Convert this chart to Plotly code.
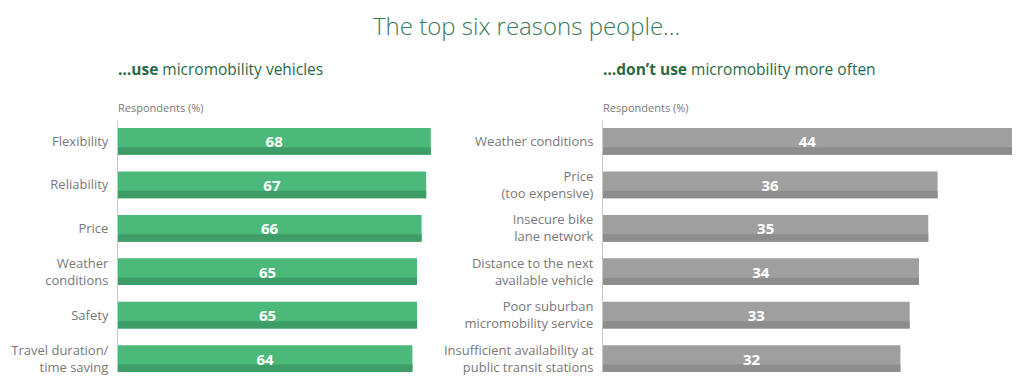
import plotly.graph_objects as go

# Reasons people use micromobility vehicles (respondents, %)
use_reasons = ["Flexibility", "Reliability", "Price", "Weather<br>conditions",
               "Safety", "Travel duration/<br>time saving"]
use_values = [68, 67, 66, 65, 65, 64]

# Reasons people don't use micromobility more often (respondents, %)
nouse_reasons = ["Weather conditions", "Price<br>(too expensive)",
                 "Insecure bike<br>lane network", "Distance to the next<br>available vehicle",
                 "Poor suburban<br>micromobility service",
                 "Insufficient availability at<br>public transit stations"]
nouse_values = [44, 36, 35, 34, 33, 32]

W, H = 1024, 376
FONT = "Open Sans"
LABEL_GREY = "#787878"
GREEN, GREEN_DARK = "#4bb97a", "#3e9d67"
GREY, GREY_DARK = "#a09fa0", "#8e8d8e"

BAR_W = 0.616      # bar thickness in category units
STRIPE_W = 0.17    # darker bottom stripe thickness

fig = go.Figure()

def add_panel(values, color, dark, xa, ya):
    pos = list(range(len(values)))
    # main bar body
    fig.add_trace(go.Bar(x=values, y=pos, orientation="h", marker_color=color,
                         marker_line_width=0, width=BAR_W, offset=-BAR_W / 2,
                         xaxis=xa, yaxis=ya, hoverinfo="skip"))
    # darker stripe along the bottom edge
    fig.add_trace(go.Bar(x=values, y=pos, orientation="h", marker_color=dark,
                         marker_line_width=0, width=STRIPE_W,
                         offset=BAR_W / 2 - STRIPE_W,
                         xaxis=xa, yaxis=ya, hoverinfo="skip"))
    # value labels
    fig.add_trace(go.Bar(x=values, y=pos, orientation="h",
                         marker_color="rgba(0,0,0,0)", marker_line_width=0,
                         width=BAR_W, offset=-BAR_W / 2,
                         text=[str(v) for v in values], textposition="inside",
                         insidetextanchor="middle", constraintext="none",
                         textfont=dict(family=FONT, size=15, color="white", weight="bold"),
                         xaxis=xa, yaxis=ya, hoverinfo="skip"))

add_panel(use_values, GREEN, GREEN_DARK, "x", "y")
add_panel(nouse_values, GREY, GREY_DARK, "x2", "y2")

y_top = 122
y_dom = [0, (H - y_top) / H]
y_range = [5.331, -0.468]

common_y = dict(domain=y_dom, range=y_range, showgrid=False, zeroline=False,
                showline=True, linecolor="#c9c9c9", linewidth=1, ticks="",
                tickfont=dict(family=FONT, size=13, color=LABEL_GREY),
                ticklabelstandoff=6, ticklabeloverflow="allow",
                tickmode="array", tickvals=list(range(6)))

fig.update_layout(
    width=W, height=H, margin=dict(l=0, r=0, t=0, b=0),
    paper_bgcolor="white", plot_bgcolor="white",
    barmode="overlay", showlegend=False,
    xaxis=dict(domain=[118 / W, 440 / W], range=[0, 70], visible=False),
    xaxis2=dict(domain=[603 / W, 1.0], range=[0, 45.3], visible=False, anchor="y2"),
    yaxis=dict(common_y, anchor="x", ticktext=use_reasons),
    yaxis2=dict(common_y, anchor="x2", ticktext=nouse_reasons),
)

def note(x, y, text, size, color, xanchor="left", weight="normal"):
    fig.add_annotation(x=x / W, y=1 - y / H, xref="paper", yref="paper",
                       text=text, showarrow=False, xanchor=xanchor, yanchor="middle",
                       font=dict(family=FONT, size=size, color=color, weight=weight))

note(526, 26, "The top six reasons people…", 24, "#3a7857", "center", 300)
note(116, 70, "<b>…use</b> micromobility vehicles", 15.5, "#2a6a45")
note(601, 70, "<b>…don’t use</b> micromobility more often", 15.5, "#2a6a45")
note(116, 108, "Respondents (%)", 11, LABEL_GREY)
note(601, 108, "Respondents (%)", 11, LABEL_GREY)

fig.write_html("out.html")
